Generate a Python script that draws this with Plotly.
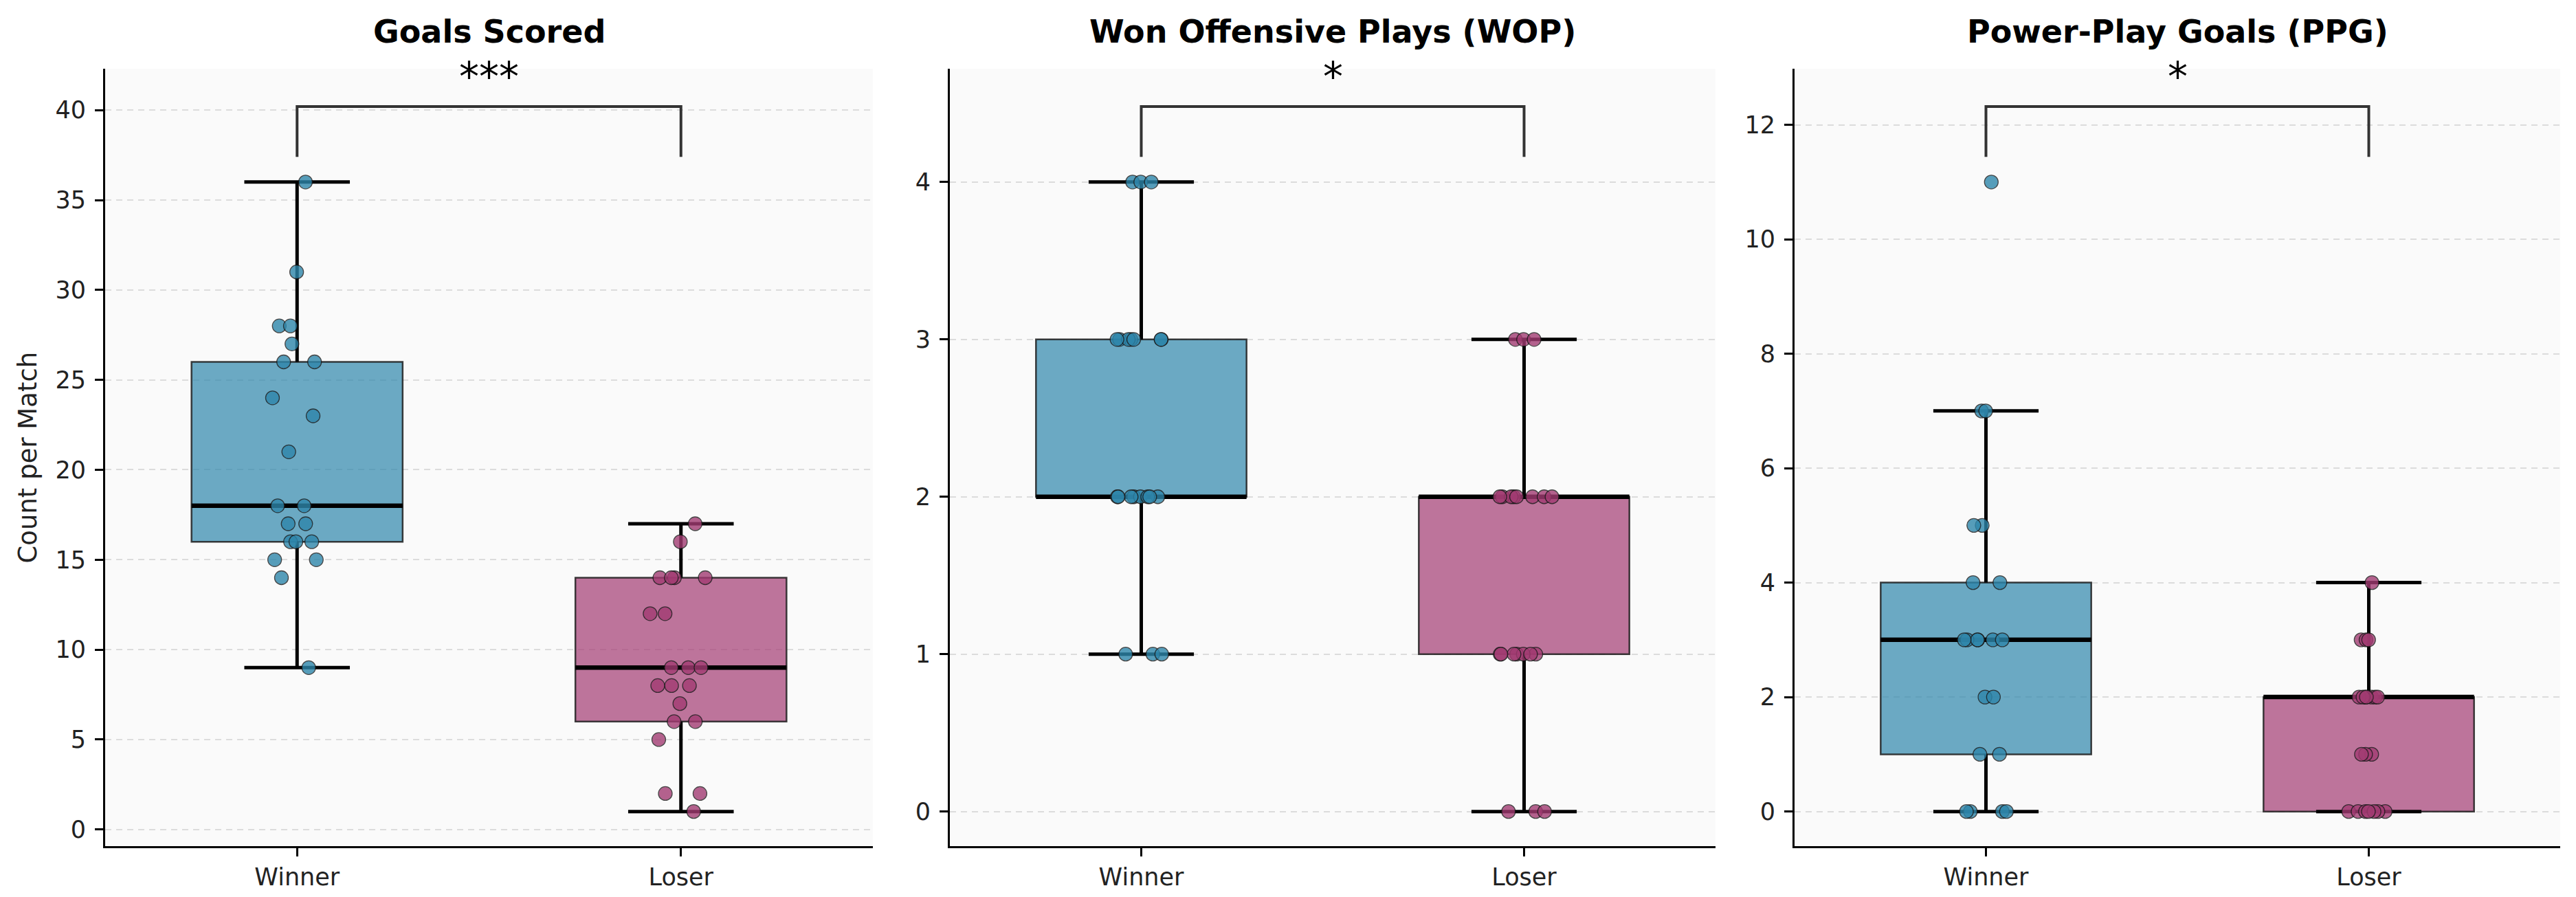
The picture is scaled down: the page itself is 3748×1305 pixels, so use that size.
import numpy as np
import plotly.graph_objects as go

# data (21 matches per group)
groups = ["Winner", "Loser"]
metric_titles = ["Goals Scored", "Won Offensive Plays (WOP)", "Power-Play Goals (PPG)"]
significance = ["***", "*", "*"]
y_ticks = [[0, 5, 10, 15, 20, 25, 30, 35, 40], [0, 1, 2, 3, 4], [0, 2, 4, 6, 8, 10, 12]]

goals_winner = [36, 31, 28, 28, 27, 26, 26, 24, 23, 21, 18, 18, 17, 17, 16, 16, 16, 15, 15, 14, 9]
goals_loser = [17, 16, 14, 14, 14, 14, 12, 12, 9, 9, 9, 8, 8, 8, 7, 6, 6, 5, 2, 2, 1]

wop_winner = [4, 4, 4, 3, 3, 3, 3, 3, 3, 3, 2, 2, 2, 2, 2, 2, 2, 2, 1, 1, 1]
wop_loser = [3, 3, 3, 2, 2, 2, 2, 2, 2, 2, 2, 1, 1, 1, 1, 1, 1, 1, 0, 0, 0]

ppg_winner = [11, 7, 7, 5, 5, 4, 4, 3, 3, 3, 3, 3, 3, 2, 2, 1, 1, 0, 0, 0, 0]
ppg_loser = [4, 3, 3, 3, 2, 2, 2, 2, 2, 2, 2, 1, 1, 1, 0, 0, 0, 0, 0, 0, 0]

panels = [(goals_winner, goals_loser), (wop_winner, wop_loser), (ppg_winner, ppg_loser)]
colors = ["#2E86AB", "#A23B72"]

W, H = 3748, 1305
PAGE_OFF = 8  # default body margin of the html page
FONT = "DejaVu Sans"
x_px = [(153, 1270), (1382, 2496), (2611, 3725)]
y_domain = [1 - (1231 - PAGE_OFF) / H, 1 - (100 - PAGE_OFF) / H]
box_width = 0.55


def px_x(p):
    return (p - PAGE_OFF) / W


def px_y(p):
    return 1 - (p - PAGE_OFF) / H


def rgba(hex_color, alpha):
    h = hex_color.lstrip("#")
    r, g, b = int(h[0:2], 16), int(h[2:4], 16), int(h[4:6], 16)
    return f"rgba({r},{g},{b},{alpha})"


fig = go.Figure()
shapes = []
annotations = []
layout_axes = {}

for i, (pair, title, stars, ticks) in enumerate(zip(panels, metric_titles, significance, y_ticks)):
    sfx = "" if i == 0 else str(i + 1)
    xa, ya = "x" + sfx, "y" + sfx
    all_vals = np.concatenate([np.array(p) for p in pair])
    lo_all, hi_all = all_vals.min(), all_vals.max()
    span = hi_all - lo_all

    for pos, (vals, color) in enumerate(zip(pair, colors)):
        v = np.array(vals, dtype=float)
        q1, med, q3 = np.percentile(v, [25, 50, 75])
        iqr = q3 - q1
        w_lo = v[v >= q1 - 1.5 * iqr].min()
        w_hi = v[v <= q3 + 1.5 * iqr].max()
        hw = box_width / 2
        common = dict(xref=xa, yref=ya, layer="between")
        # box body
        shapes.append(dict(type="rect", x0=pos - hw, x1=pos + hw, y0=q1, y1=q3,
                           fillcolor=rgba(color, 0.7), line=dict(color="rgba(30,30,30,0.85)", width=2.5), **common))
        # whiskers + caps
        for a, b in [(w_lo, q1), (q3, w_hi)]:
            shapes.append(dict(type="line", x0=pos, x1=pos, y0=a, y1=b,
                               line=dict(color="black", width=5), **common))
        for c in [w_lo, w_hi]:
            shapes.append(dict(type="line", x0=pos - hw / 2, x1=pos + hw / 2, y0=c, y1=c,
                               line=dict(color="black", width=5), **common))
        # median
        shapes.append(dict(type="line", x0=pos - hw, x1=pos + hw, y0=med, y1=med,
                           line=dict(color="black", width=6.5), **common))

        # jittered points (box itself kept invisible, drawn with shapes above)
        fig.add_trace(go.Box(
            y=vals, x0=pos, width=box_width, name=groups[pos],
            boxpoints="all", jitter=0.3, pointpos=0,
            fillcolor="rgba(0,0,0,0)", line=dict(width=0),
            marker=dict(color=color, size=20, opacity=0.8, line=dict(color="#1a1a1a", width=1.3)),
            xaxis=xa, yaxis=ya, showlegend=False, hoverinfo="y",
        ))

    # significance bracket
    b_lo = hi_all + 0.04 * span
    b_hi = hi_all + 0.12 * span
    fig.add_trace(go.Scatter(
        x=[0, 0, 1, 1], y=[b_lo, b_hi, b_hi, b_lo], mode="lines",
        line=dict(color="#333333", width=4), xaxis=xa, yaxis=ya,
        showlegend=False, hoverinfo="skip", cliponaxis=False,
    ))
    annotations.append(dict(x=0.5, y=b_hi, xref=xa, yref=ya, text=stars, showarrow=False,
                            xanchor="center", yanchor="bottom", yshift=7,
                            font=dict(family=FONT, size=58, color="black")))

    d0, d1 = px_x(x_px[i][0]), px_x(x_px[i][1])
    annotations.append(dict(x=(d0 + d1) / 2, y=px_y(46), xref="paper", yref="paper",
                            text=f"<b>{title}</b>", showarrow=False,
                            xanchor="center", yanchor="middle",
                            font=dict(family=FONT, size=46, color="black")))

    layout_axes["xaxis" + sfx] = dict(
        domain=[d0, d1], anchor=ya, type="linear", range=[-0.5, 1.5],
        tickvals=[0, 1], ticktext=groups, showgrid=False, zeroline=False,
        showline=True, linecolor="black", linewidth=2.7,
        ticks="outside", ticklen=12, tickwidth=2.7, tickcolor="black",
        tickfont=dict(family=FONT, size=35, color="#222222"),
    )
    layout_axes["yaxis" + sfx] = dict(
        domain=y_domain, anchor=xa,
        range=[lo_all - 0.055 * span, hi_all + 0.18 * span],
        tickvals=ticks, showgrid=True, gridcolor="#dcdcdc", gridwidth=2, griddash="9px,7px",
        zeroline=False, showline=True, linecolor="black", linewidth=2.7,
        ticks="outside", ticklen=12, tickwidth=2.7, tickcolor="black",
        tickfont=dict(family=FONT, size=35, color="#222222"), ticklabelstandoff=6,
    )

annotations.append(dict(x=px_x(40), y=sum(y_domain) / 2, xref="paper", yref="paper",
                        text="Count per Match", textangle=-90, showarrow=False,
                        xanchor="center", yanchor="middle",
                        font=dict(family=FONT, size=37, color="#222222")))

fig.update_layout(
    width=W, height=H,
    margin=dict(l=0, r=0, t=0, b=0),
    paper_bgcolor="white", plot_bgcolor="#fafafa",
    font=dict(family=FONT),
    shapes=shapes, annotations=annotations,
    boxmode="overlay",
    **layout_axes,
)

fig.write_html("out.html")
